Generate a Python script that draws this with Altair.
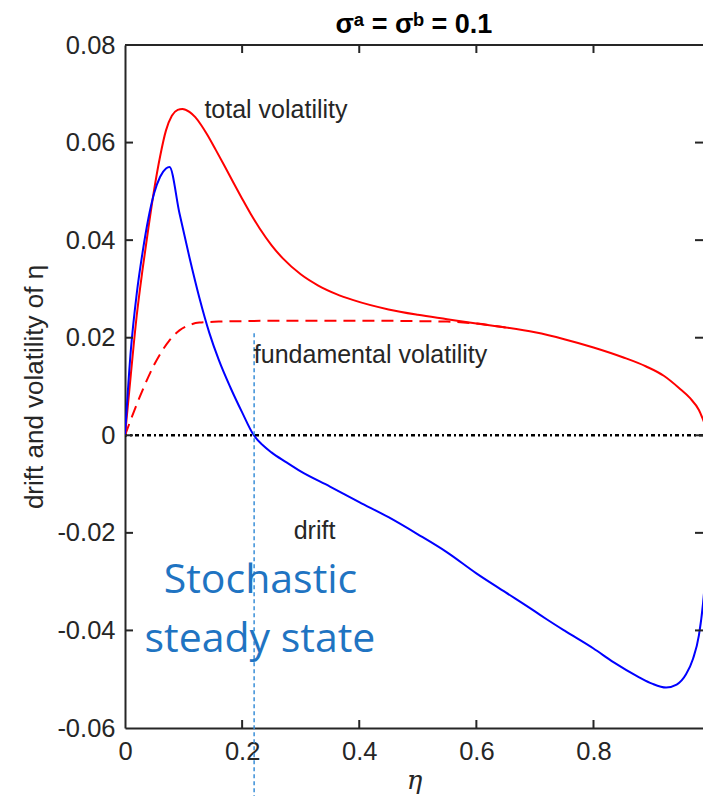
import altair as alt
import pandas as pd

# ---------------- data ----------------
x_min, x_max = 0.0, 0.987
y_min, y_max = -0.06, 0.08

tv_eta = [0, 0.01, 0.02, 0.03, 0.04, 0.05, 0.06, 0.07, 0.08, 0.09, 0.098, 0.11, 0.12, 0.13,
          0.14, 0.155, 0.17, 0.185, 0.2, 0.215, 0.23, 0.25, 0.27, 0.3, 0.33, 0.36, 0.39,
          0.45, 0.5, 0.55, 0.6, 0.65, 0.7, 0.75, 0.8, 0.85, 0.89, 0.92, 0.946, 0.965, 0.98,
          0.992, 1.0]
tv_val = [0, 0.0125, 0.0245, 0.034, 0.0425, 0.0505, 0.0572, 0.0625, 0.0655, 0.0667, 0.0669,
          0.0663, 0.0652, 0.0636, 0.0617, 0.0585, 0.0552, 0.0518, 0.0485, 0.0453, 0.0424,
          0.039, 0.0362, 0.033, 0.0307, 0.029, 0.0277, 0.0258, 0.0247, 0.0238, 0.0229,
          0.0221, 0.0211, 0.0197, 0.018, 0.016, 0.0141, 0.0122, 0.0097, 0.0076, 0.0052,
          0.0018, 0]

fv_eta = [0, 0.025, 0.05, 0.075, 0.093, 0.11, 0.127, 0.16, 0.2, 0.3, 0.4, 0.5, 0.55, 0.6, 0.65]
fv_val = [0, 0.0078, 0.0145, 0.0193, 0.0215, 0.0226, 0.0231, 0.0233, 0.0234, 0.0235, 0.0235,
          0.0234, 0.0233, 0.0229, 0.0221]

dr_eta = [0, 0.01, 0.02, 0.03, 0.04, 0.05, 0.06, 0.07, 0.076, 0.093, 0.11, 0.127, 0.144,
          0.16, 0.18, 0.2, 0.22, 0.235, 0.25, 0.275, 0.3, 0.35, 0.4, 0.45, 0.5, 0.55, 0.6,
          0.65, 0.7, 0.72, 0.75, 0.8, 0.834, 0.878, 0.9, 0.924, 0.942, 0.958, 0.97, 0.98,
          0.987, 0.993, 1.0]
dr_val = [0, 0.0175, 0.029, 0.0375, 0.0445, 0.0497, 0.053, 0.0547, 0.055, 0.0455, 0.0365,
          0.0282, 0.021, 0.0155, 0.0098, 0.0047, 0.0, -0.002, -0.0035, -0.0055, -0.0074,
          -0.0105, -0.0137, -0.0168, -0.0203, -0.024, -0.0283, -0.0322, -0.0361, -0.0377,
          -0.04, -0.0437, -0.0465, -0.0496, -0.0509, -0.0517, -0.0511, -0.049, -0.0458,
          -0.041, -0.0345, -0.025, 0.0]

x_label_vals = [0, 0.2, 0.4, 0.6, 0.8]
x_tick_vals = [0.2, 0.4, 0.6, 0.8]
y_label_vals = [-0.06, -0.04, -0.02, 0, 0.02, 0.04, 0.06, 0.08]
y_tick_vals = [-0.04, -0.02, 0, 0.02, 0.04, 0.06]

ann_text = ["total volatility", "fundamental volatility", "drift"]
ann_x = [0.1356, 0.22, 0.288]
ann_y = [0.065, 0.0148, -0.0213]

sss_text = ["Stochastic", "steady state"]
sss_x = [0.2314, 0.2305]
sss_y = [-0.0324, -0.0445]

steady_eta = 0.2205
steady_top = 0.0209
steady_bottom = -0.079

# ---------------- styling ----------------
AX = "#262626"
FONT = "Liberation Sans"

xs = alt.Scale(domain=[x_min, x_max], nice=False, zero=False)
ys = alt.Scale(domain=[y_min, y_max], nice=False, zero=False)

xaxis = alt.Axis(values=x_label_vals,
                 labelExpr="datum.value == 0 ? '0' : format(datum.value, '.1f')",
                 ticks=False, grid=False, domainColor=AX, domainWidth=2,
                 labelFont=FONT, labelFontSize=25.5, labelColor=AX, labelPadding=11,
                 labelFlush=False, labelOverlap=False,
                 title="η", titleFont="DejaVu Serif", titleFontSize=26,
                 titleFontStyle="italic", titleFontWeight="normal",
                 titleColor=AX, titlePadding=3)
yaxis = alt.Axis(values=y_label_vals,
                 labelExpr="datum.value == 0 ? '0' : (datum.value < 0 ? '-' : '') + format(abs(datum.value), '.2f')",
                 ticks=False, grid=False, domainColor=AX, domainWidth=2,
                 labelFont=FONT, labelFontSize=25.5, labelColor=AX, labelPadding=10,
                 labelOverlap=False,
                 title="drift and volatility of η", titleFont=FONT, titleFontSize=26,
                 titleFontWeight="normal", titleColor=AX, titlePadding=9)


def X(field):
    return alt.X(field, type="quantitative", scale=xs, axis=xaxis)


def Y(field):
    return alt.Y(field, type="quantitative", scale=ys, axis=yaxis)


df_tv = pd.DataFrame({"eta": tv_eta, "val": tv_val})
df_fv = pd.DataFrame({"eta": fv_eta, "val": fv_val})
df_dr = pd.DataFrame({"eta": dr_eta, "val": dr_val})

drift = alt.Chart(df_dr).mark_line(color="#0000FF", strokeWidth=2, interpolate="monotone",
                                   clip=True).encode(x=X("eta"), y=Y("val"))
total = alt.Chart(df_tv).mark_line(color="#FF0000", strokeWidth=2, interpolate="monotone",
                                   clip=True).encode(x=X("eta"), y=Y("val"))
fund = alt.Chart(df_fv).mark_line(color="#FF0000", strokeWidth=2, strokeDash=[12, 7],
                                  interpolate="monotone", clip=True).encode(x=X("eta"), y=Y("val"))

zero = alt.Chart(pd.DataFrame({"y": [0.0]})).mark_rule(
    color="black", strokeWidth=2.5, strokeDash=[4, 3, 2, 3]).encode(y=Y("y"))

top_frame = alt.Chart(pd.DataFrame({"y": [y_max]})).mark_rule(
    color=AX, strokeWidth=2).encode(y=Y("y"))


def ticks(xv, yv, orient):
    return alt.Chart(pd.DataFrame({"x": xv, "y": yv})).mark_tick(
        orient=orient, size=16, thickness=2, color=AX, clip=True, opacity=1).encode(
        x=X("x"), y=Y("y"))


t_bottom = ticks(x_tick_vals, [y_min] * len(x_tick_vals), "vertical")
t_top = ticks(x_tick_vals, [y_max] * len(x_tick_vals), "vertical")
t_left = ticks([x_min] * len(y_tick_vals), y_tick_vals, "horizontal")
t_right = ticks([x_max] * len(y_tick_vals), y_tick_vals, "horizontal")

vline = alt.Chart(pd.DataFrame({"x": [steady_eta], "y": [steady_top], "y2": [steady_bottom]})).mark_rule(
    color="#3A8FD8", strokeWidth=1.5, strokeDash=[4, 3], clip=False).encode(
    x=X("x"), y=Y("y"), y2="y2:Q")

ann = alt.Chart(pd.DataFrame({"t": ann_text, "x": ann_x, "y": ann_y})).mark_text(
    align="left", baseline="alphabetic", font=FONT, fontSize=25, color=AX).encode(
    x=X("x"), y=Y("y"), text="t:N")

sss = alt.Chart(pd.DataFrame({"t": sss_text, "x": sss_x, "y": sss_y})).mark_text(
    align="center", baseline="alphabetic", font="Open Sans", fontSize=41, color="#1F74C2").encode(
    x=X("x"), y=Y("y"), text="t:N")

chart = alt.layer(
    zero, fund, total, drift,
    top_frame, t_bottom, t_top, t_left, t_right, vline, ann, sss
).properties(
    width=578, height=683,
    padding={"left": 117, "top": 37, "right": 0, "bottom": 68},
    autosize=alt.AutoSizeParams(type="none"),
    title=alt.TitleParams("σᵃ = σᵇ = 0.1", font=FONT, fontSize=27, fontWeight="bold",
                          color="black", offset=0, dy=6),
    background="white",
).configure_view(stroke=None)

chart.save("out.html", embed_options={"renderer": "svg", "actions": False})
